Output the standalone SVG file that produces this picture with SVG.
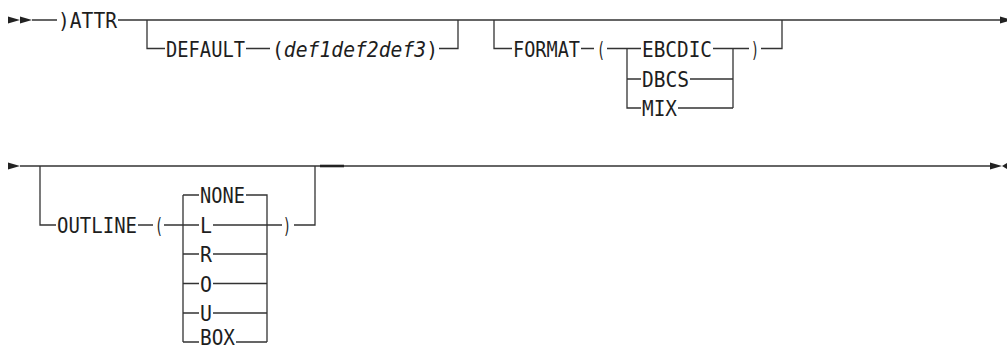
<svg xmlns="http://www.w3.org/2000/svg" width="1007" height="348" viewBox="0 0 1007 348">
<style>
.t{font-family:"DejaVu Sans Mono","Liberation Mono",monospace;font-size:21px;fill:#1e1e1e}
.i{font-style:italic}
.c path{fill:none;stroke:#333;stroke-width:1.3}
.a{fill:#222}
</style>
<rect width="1007" height="348" fill="#fff"/>
<g id="connectors" class="c">
<path d="M32,20 H57 M118,20 H1000"/>
<path d="M147,20 V48.5 H165 M246,48.5 H270 M439,48.5 H458 V20"/>
<path d="M494,20 V48.5 H512 M581,48.5 H594 M607,48.5 H641 M627,48.5 V108 H641 M627,79 H641 M713,48.5 H749 M690,79 H733 M678,108 H733 M733,48.5 V108 M761,48.5 H782 V20"/>
<path d="M20,166 H990"/>
<path d="M40,166 V225 H56 M138,225 H153 M164,225 H199 M183,195 V342 M183,195 H199 M183,254 H199 M183,283.5 H199 M183,313 H199 M183,342 H199"/>
<path d="M246,195 H267 V342 M213,225 H282 M213,254 H267 M213,283.5 H267 M213,313 H267 M236,342 H267 M294,225 H315 V166"/>
<path d="M320,166 H344" style="stroke-width:2.6;stroke:#222"/>
<polygon class="a" points="8,16.5 20,20 8,23.5"/>
<polygon class="a" points="20,16.5 32,20 20,23.5"/>
<polygon class="a" points="1000,16.5 1012,20 1000,23.5"/>
<polygon class="a" points="8,162.5 20,166 8,169.5"/>
<polygon class="a" points="990,162.5 1002,166 990,169.5"/>
<polygon class="a" points="1007,163 1002,166 1007,169"/>
</g>
<g id="attr"><text class="t" x="58" y="28" textLength="59" lengthAdjust="spacingAndGlyphs">)ATTR</text></g>
<g id="default">
<text class="t" x="166" y="56.5" textLength="79" lengthAdjust="spacingAndGlyphs">DEFAULT</text>
<text class="t" x="272" y="56.5" textLength="166" lengthAdjust="spacingAndGlyphs">(<tspan class="i">def1def2def3</tspan>)</text>
</g>
<g id="format">
<text class="t" x="513" y="56.5" textLength="67" lengthAdjust="spacingAndGlyphs">FORMAT</text>
<text class="t" x="597" y="56.5" textLength="8" lengthAdjust="spacingAndGlyphs">(</text>
<text class="t" x="642" y="56.5" textLength="70" lengthAdjust="spacingAndGlyphs">EBCDIC</text>
<text class="t" x="642" y="87" textLength="47" lengthAdjust="spacingAndGlyphs">DBCS</text>
<text class="t" x="642" y="116" textLength="35" lengthAdjust="spacingAndGlyphs">MIX</text>
<text class="t" x="751" y="56.5" textLength="8" lengthAdjust="spacingAndGlyphs">)</text>
</g>
<g id="outline">
<text class="t" x="57" y="233" textLength="80" lengthAdjust="spacingAndGlyphs">OUTLINE</text>
<text class="t" x="155" y="233" textLength="8" lengthAdjust="spacingAndGlyphs">(</text>
<text class="t" x="200" y="203" textLength="45" lengthAdjust="spacingAndGlyphs">NONE</text>
<text class="t" x="200" y="233" textLength="12" lengthAdjust="spacingAndGlyphs">L</text>
<text class="t" x="200" y="262" textLength="12" lengthAdjust="spacingAndGlyphs">R</text>
<text class="t" x="200" y="291.5" textLength="12" lengthAdjust="spacingAndGlyphs">O</text>
<text class="t" x="200" y="321" textLength="12" lengthAdjust="spacingAndGlyphs">U</text>
<text class="t" x="200" y="345" textLength="35" lengthAdjust="spacingAndGlyphs">BOX</text>
<text class="t" x="283" y="233" textLength="8" lengthAdjust="spacingAndGlyphs">)</text>
</g>
</svg>
